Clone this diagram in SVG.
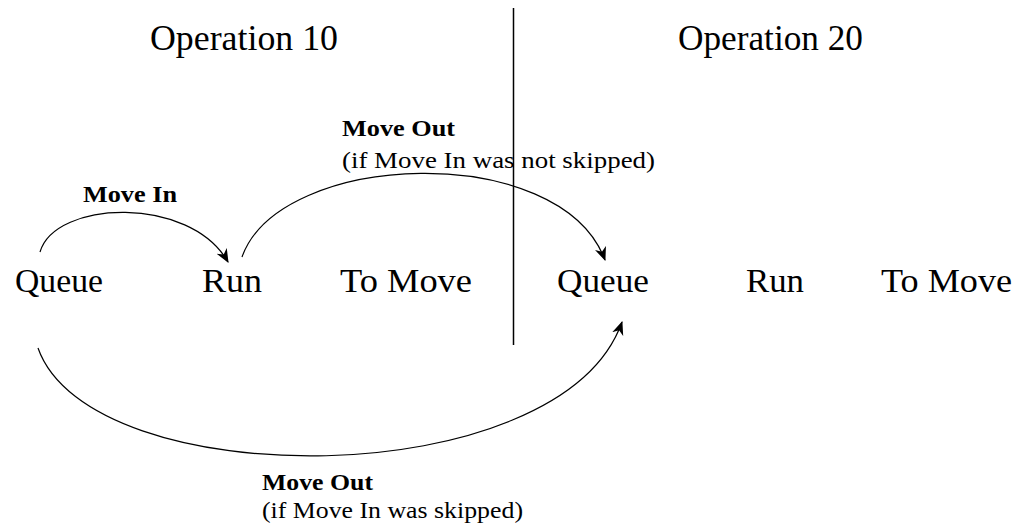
<svg xmlns="http://www.w3.org/2000/svg" width="1029" height="531" viewBox="0 0 1029 531">
<style>
.t{font-family:"Liberation Serif","Times New Roman",serif;fill:#000}
.title{font-size:35px}
.node{font-size:34px}
.lb{font-size:23px;font-weight:bold}
.ls{font-size:23px}
.arc{fill:none;stroke:#000;stroke-width:1.2}
</style>
<defs>
<marker id="ah" markerUnits="userSpaceOnUse" markerWidth="14" markerHeight="14" viewBox="0 0 12 12" refX="11" refY="6" orient="auto">
<path d="M0,1 L12,6 L0,11 L3.5,6 z" fill="#000"/>
</marker>
</defs>
<g id="titles">
<text class="t title" x="150" y="50" textLength="188" lengthAdjust="spacingAndGlyphs">Operation 10</text>
<text class="t title" x="678" y="50" textLength="185" lengthAdjust="spacingAndGlyphs">Operation 20</text>
</g>
<g id="divider"><line x1="513.5" y1="8" x2="513.5" y2="345" stroke="#000" stroke-width="1.5"/></g>
<g id="op10-queue"><text class="t node" x="15" y="292" textLength="88" lengthAdjust="spacingAndGlyphs">Queue</text></g>
<g id="op10-run"><text class="t node" x="202" y="292" textLength="60" lengthAdjust="spacingAndGlyphs">Run</text></g>
<g id="op10-tomove"><text class="t node" x="340" y="292" textLength="132" lengthAdjust="spacingAndGlyphs">To Move</text></g>
<g id="op20-queue"><text class="t node" x="557" y="292" textLength="92" lengthAdjust="spacingAndGlyphs">Queue</text></g>
<g id="op20-run"><text class="t node" x="746" y="292" textLength="58" lengthAdjust="spacingAndGlyphs">Run</text></g>
<g id="op20-tomove"><text class="t node" x="881" y="292" textLength="131" lengthAdjust="spacingAndGlyphs">To Move</text></g>
<g id="connectors">
<path class="arc" d="M40,252 C55,200 190,195 228,262" marker-end="url(#ah)"/>
<path class="arc" d="M242,257 C280,150 560,140 605,260" marker-end="url(#ah)"/>
<path class="arc" d="M38,348 C90,496 560,496 622,322" marker-end="url(#ah)"/>
</g>
<g id="labels">
<text class="t lb" x="83" y="202" textLength="94" lengthAdjust="spacingAndGlyphs">Move In</text>
<text class="t lb" x="342" y="136" textLength="113" lengthAdjust="spacingAndGlyphs">Move Out</text>
<text class="t ls" x="342" y="168" textLength="313" lengthAdjust="spacingAndGlyphs">(if Move In was not skipped)</text>
<text class="t lb" x="262" y="490" textLength="111" lengthAdjust="spacingAndGlyphs">Move Out</text>
<text class="t ls" x="262" y="518" textLength="261" lengthAdjust="spacingAndGlyphs">(if Move In was skipped)</text>
</g>
</svg>
